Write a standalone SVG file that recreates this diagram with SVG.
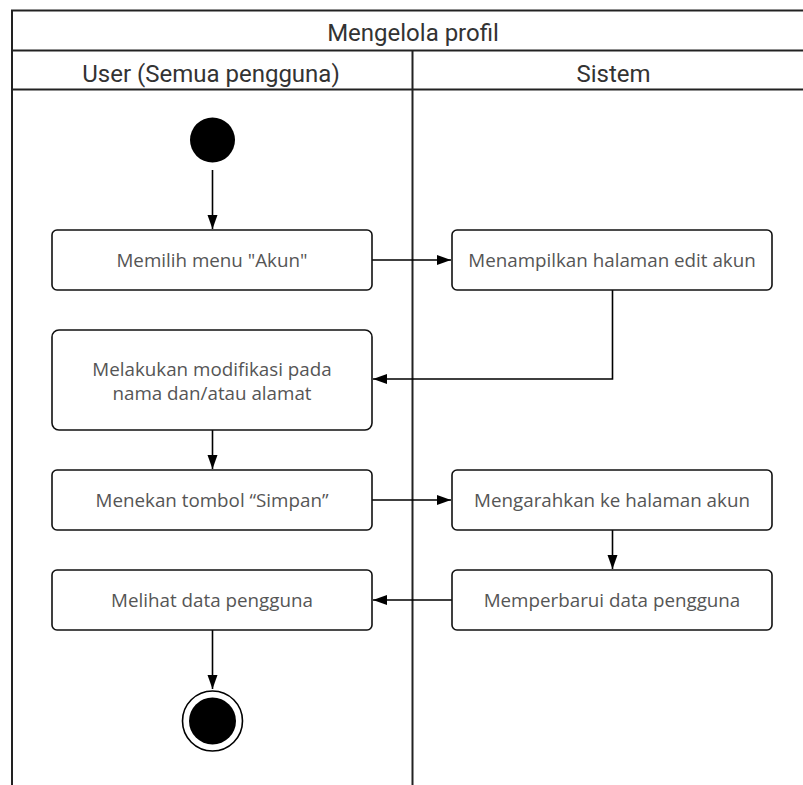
<svg xmlns="http://www.w3.org/2000/svg" width="803" height="785" viewBox="0 0 803 785">
  <style>
    .pool { fill: none; stroke: #222; stroke-width: 2; }
    .hdr { font-family: Roboto, "Liberation Sans", sans-serif; font-size: 24px; fill: #333; text-anchor: middle; }
    .act rect { fill: #fff; stroke: #111; stroke-width: 1.6; }
    .act text { font-family: "Open Sans", "Noto Sans", sans-serif; font-size: 18.8px; fill: #555; text-anchor: middle; }
    .flow { fill: none; stroke: #000; stroke-width: 1.6; marker-end: url(#head); }
  </style>
  <defs>
    <marker id="head" markerUnits="userSpaceOnUse" markerWidth="15" markerHeight="11" refX="14" refY="5" orient="auto">
      <path d="M0,0 L14,5 L0,10 Z" fill="#000"/>
    </marker>
  </defs>

  <rect width="803" height="785" fill="#fff"/>

  <!-- swimlane pool -->
  <g id="pool">
    <path class="pool" d="M12,785 V10.5 H815"/>
    <path class="pool" d="M12,50.5 H815 M12,89.5 H815"/>
    <path class="pool" d="M412.5,50.5 V785"/>
    <text class="hdr" x="413" y="40.5">Mengelola profil</text>
    <text class="hdr" x="211" y="81.5">User (Semua pengguna)</text>
    <text class="hdr" x="613.5" y="81.5">Sistem</text>
  </g>

  <!-- connectors -->
  <g id="connectors">
    <path class="flow" d="M212.5,170 V229"/>
    <path class="flow" d="M372,260 H451"/>
    <path class="flow" d="M612.5,290 V379 H373"/>
    <path class="flow" d="M212.5,430 V469"/>
    <path class="flow" d="M372,500 H451"/>
    <path class="flow" d="M612.5,530 V569"/>
    <path class="flow" d="M452,600 H373"/>
    <path class="flow" d="M212.5,630 V689"/>
  </g>

  <g id="start">
    <circle cx="212.5" cy="140" r="22.5" fill="#000"/>
  </g>

  <g id="pilih-menu" class="act">
    <rect x="52" y="230" width="320" height="60" rx="5"/>
    <text x="212" y="266.5">Memilih menu "Akun"</text>
  </g>

  <g id="tampil-edit" class="act">
    <rect x="452" y="230" width="320" height="60" rx="5"/>
    <text x="612" y="266.5">Menampilkan halaman edit akun</text>
  </g>

  <g id="modifikasi" class="act">
    <rect x="52" y="330" width="320" height="100" rx="7"/>
    <text x="212" y="375.5">Melakukan modifikasi pada</text>
    <text x="212" y="399.5">nama dan/atau alamat</text>
  </g>

  <g id="tekan-simpan" class="act">
    <rect x="52" y="470" width="320" height="60" rx="5"/>
    <text x="212" y="506.5">Menekan tombol “Simpan”</text>
  </g>

  <g id="arahkan" class="act">
    <rect x="452" y="470" width="320" height="60" rx="5"/>
    <text x="612" y="506.5">Mengarahkan ke halaman akun</text>
  </g>

  <g id="perbarui" class="act">
    <rect x="452" y="570" width="320" height="60" rx="5"/>
    <text x="612" y="606.5">Memperbarui data pengguna</text>
  </g>

  <g id="lihat-data" class="act">
    <rect x="52" y="570" width="320" height="60" rx="5"/>
    <text x="212" y="606.5">Melihat data pengguna</text>
  </g>

  <g id="end">
    <circle cx="212.5" cy="721" r="30" fill="#fff" stroke="#000" stroke-width="1.6"/>
    <circle cx="212.5" cy="721" r="23.5" fill="#000"/>
  </g>
</svg>
